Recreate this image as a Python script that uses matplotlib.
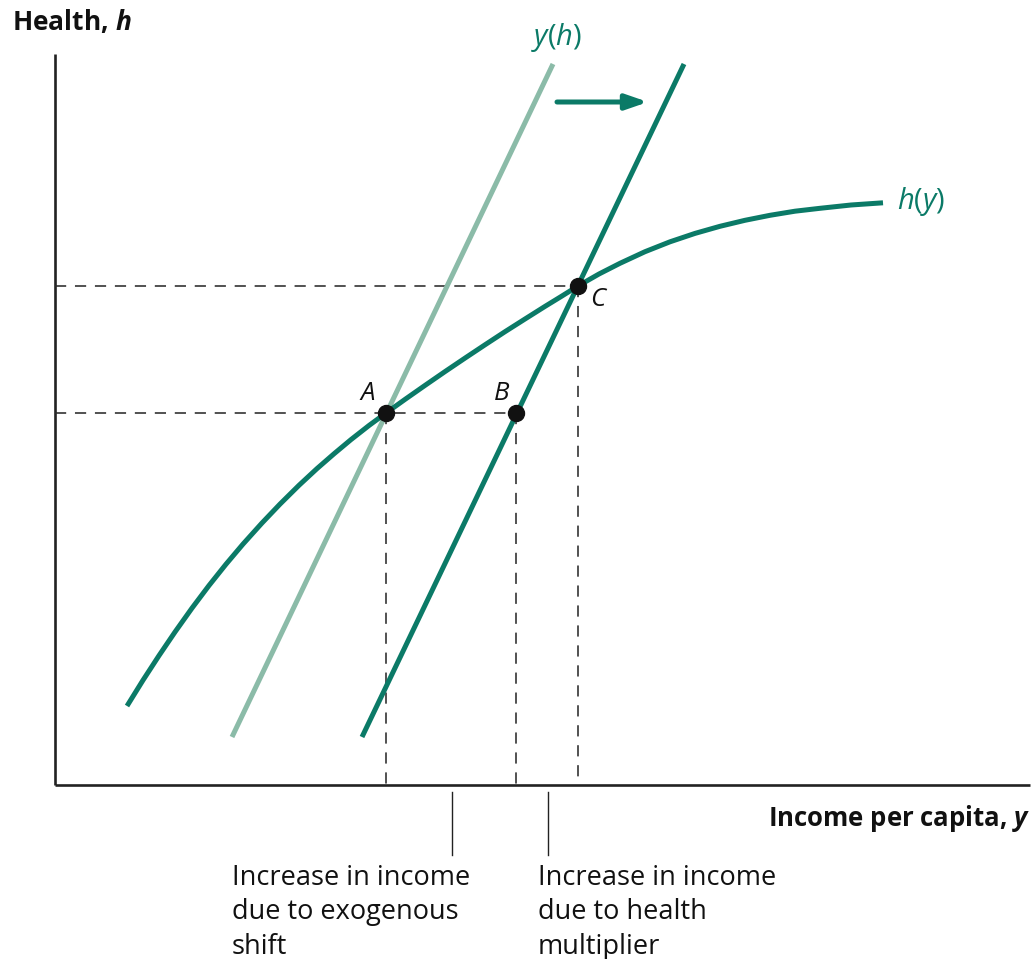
import matplotlib
matplotlib.use("Agg")
import matplotlib.pyplot as plt

plt.rcParams['font.family'] = ['Open Sans', 'DejaVu Sans']
plt.rcParams['mathtext.fontset'] = 'custom'
plt.rcParams['mathtext.rm'] = 'Open Sans'
plt.rcParams['mathtext.it'] = 'Open Sans:italic'
plt.rcParams['mathtext.bf'] = 'Open Sans:bold'
plt.rcParams['mathtext.bfit'] = 'Open Sans:bold:italic'

# ---- data (arbitrary units, origin at axes corner) ----
hy_income = [72, 88, 104, 120, 137, 154, 171, 188, 207, 225, 244, 262, 279, 296,
             314, 331, 350, 370, 390, 410, 430, 450, 470, 490, 506, 523, 544,
             565, 590, 615, 640, 665, 690, 715, 740, 765, 796, 828]
hy_health = [79, 104.8, 129.4, 153.0, 176.9, 199.5, 220.8, 240.9, 262.0, 280.9,
             299.7, 316.4, 331.2, 345.4, 359.5, 372, 385.6, 399.6, 413.4, 426.9,
             440.2, 453.3, 466.0, 478.6, 488.4, 499, 511.0, 521.7, 533.3, 543.2,
             551.6, 558.7, 564.7, 569.7, 573.8, 576.7, 580.0, 582.2]

yh_old_income = [177, 498]
yh_new_income = [307, 629]
yh_health = [48, 721]

point_labels = ['A', 'B', 'C']
point_income = [331, 461, 523]
point_health = [372, 372, 499]

marker_income = [397, 493]
marker_health = [-7, -70]

arrow_income = [502, 593]
arrow_health = 683

axis_top = 731
axis_right = 975

DARK = '#0b7a67'
LIGHT = '#8bbba8'

fig = plt.figure(figsize=(10.36, 9.59), dpi=100)
ax = fig.add_axes([0, 0, 1, 1])
ax.set_xlim(-55, 981)
ax.set_ylim(-174, 785)
ax.axis('off')

# axes lines
ax.plot([0, 0], [0, axis_top], color='#222222', lw=1.9, solid_capstyle='butt')
ax.plot([0, axis_right], [0, 0], color='#222222', lw=1.9, solid_capstyle='butt')

# dashed guide lines
dash = dict(color='#2a2a2a', lw=1.15, dashes=(7, 5.5))
xA, xB, xC = point_income
yA, yB, yC = point_health
ax.plot([0, xC], [yC, yC], **dash)
ax.plot([0, xB], [yA, yA], **dash)
ax.plot([xA, xA], [yA, 0], **dash)
ax.plot([xB, xB], [yB, 0], **dash)
ax.plot([xC, xC], [yC, 0], **dash)

# y(h) lines
ax.plot(yh_old_income, yh_health, color=LIGHT, lw=3.6, solid_capstyle='butt')
ax.plot(yh_new_income, yh_health, color=DARK, lw=3.6, solid_capstyle='butt')

# h(y) curve
ax.plot(hy_income, hy_health, color=DARK, lw=3.6, solid_capstyle='butt',
        solid_joinstyle='round')

# equilibrium points
ax.plot(point_income, point_health, 'o', color='#111111', ms=11.5, zorder=5)
label_offsets = [(-18, 20), (-14, 20), (20, -14)]
for lab, x, y, (dx, dy) in zip(point_labels, point_income, point_health, label_offsets):
    ax.text(x + dx, y + dy, lab, fontsize=18.5, style='italic', ha='center',
            va='center', color='#111111')

# shift arrow
ax.annotate('', xy=(arrow_income[1], arrow_health), xytext=(arrow_income[0], arrow_health),
            arrowprops=dict(arrowstyle='-|>,head_length=1.3,head_width=0.45',
                            color=DARK, lw=3.6, shrinkA=0, shrinkB=0))

# markers below axis
for x in marker_income:
    ax.plot([x, x], marker_health, color='#222222', lw=1.0)

# labels
ax.text(502, 748, r'$y(h)$', fontsize=21, color=DARK, ha='center', va='center')
ax.text(842, 584, r'$h(y)$', fontsize=21, color=DARK, ha='left', va='center')
ax.text(-43, 763, r'Health, $\mathbfit{h}$', fontsize=19, fontweight='bold',
        ha='left', va='center', color='#111111')
ax.text(axis_right, -33, r'Income per capita, $\mathbfit{y}$', fontsize=18.5,
        fontweight='bold', ha='right', va='center', color='#111111')
ax.text(177, -79, 'Increase in income\ndue to exogenous\nshift', fontsize=19.5,
        ha='left', va='top', linespacing=1.3, color='#111111')
ax.text(483, -79, 'Increase in income\ndue to health\nmultiplier', fontsize=19.5,
        ha='left', va='top', linespacing=1.3, color='#111111')

fig.savefig('out.png', dpi=100, facecolor='white')
